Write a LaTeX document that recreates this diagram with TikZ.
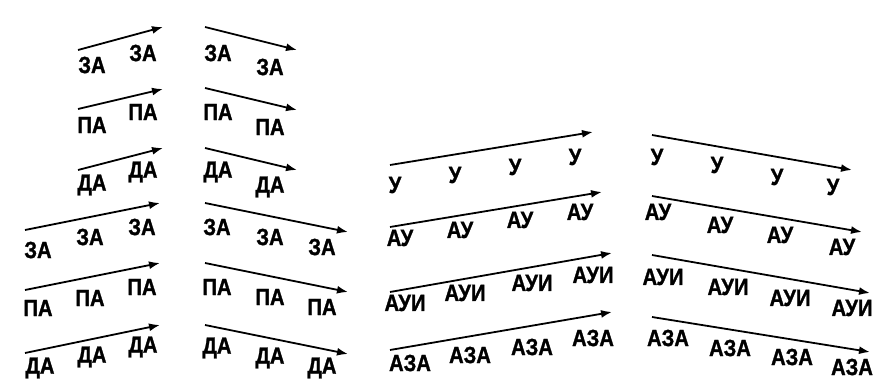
\documentclass[tikz,border=0pt]{standalone}
\usepackage{fontspec}
\setmainfont{Liberation Sans}
\newfontfamily\labfont{Liberation Sans}[FakeStretch=0.86,BoldFeatures={FakeBold=1.2}]
\usetikzlibrary{arrows.meta}
\tikzset{
  arr/.style={line width=1.8pt,-{Latex[length=11pt,width=8pt]}},
  lbl/.style={font=\labfont\fontsize{23.5}{23.5}\selectfont\bfseries,inner sep=0pt,anchor=center}
}
\newcommand\arow[5]{%
  \coordinate (#1s) at (#2);
  \coordinate (#1e) at (#3);
  \draw[arr] (#1s) -- (#1e);
  \foreach \px/\py [count=\i] in {#5} {\node[lbl] (#1l\i) at (\px,\py) {#4};}
}
\begin{document}
\begin{tikzpicture}[x=1pt,y=-1pt]
\fill[white] (0,0) rectangle (873,382);
\useasboundingbox (0,0) rectangle (873,382);
% group 1
\arow{aa}{78,50}{163,27}{ЗА}{92/65,143/53}
\arow{ab}{78,109}{163,89}{ПА}{92/125,143/112}
\arow{ac}{78,170}{163,148}{ДА}{92/185,143/172}
\arow{ad}{25,230}{160,203}{ЗА}{38/250,90/237,142/227}
\arow{ae}{25,290}{160,263}{ПА}{38/308,90/298,142/287}
\arow{af}{25,353}{160,325}{ДА}{40/368,92/357,143/347}
% group 2
\arow{ba}{205,27}{297,50}{ЗА}{218/53,270/67}
\arow{bb}{205,88}{297,110}{ПА}{218/112,270/127}
\arow{bc}{205,148}{297,170}{ДА}{218/172,270/187}
\arow{bd}{205,203}{348,232}{ЗА}{217/227,270/237,322/247}
\arow{be}{205,263}{348,292}{ПА}{217/287,270/297,322/307}
\arow{bf}{205,325}{348,354}{ДА}{217/348,270/358,322/368}
% group 3
\arow{ca}{390,165}{593,132}{У}{395/185,455/175,515/167,575/157}
\arow{cb}{390,227}{602,192}{АУ}{400/238,460/230,520/220,580/212}
\arow{cc}{390,292}{612,253}{АУИ}{405/303,465/293,532/283,593/275}
\arow{cd}{390,350}{612,312}{АЗА}{410/363,470/355,532/347,593/338}
% group 4
\arow{da}{652,135}{852,170}{У}{657/157,717/165,777/177,833/187}
\arow{db}{652,196}{862,232}{АУ}{658/212,720/225,780/235,842/247}
\arow{dc}{652,255}{870,293}{АУИ}{663/277,728/287,790/298,852/308}
\arow{dd}{652,317}{870,352}{АЗА}{668/338,730/348,792/357,852/367}
\end{tikzpicture}
\end{document}
